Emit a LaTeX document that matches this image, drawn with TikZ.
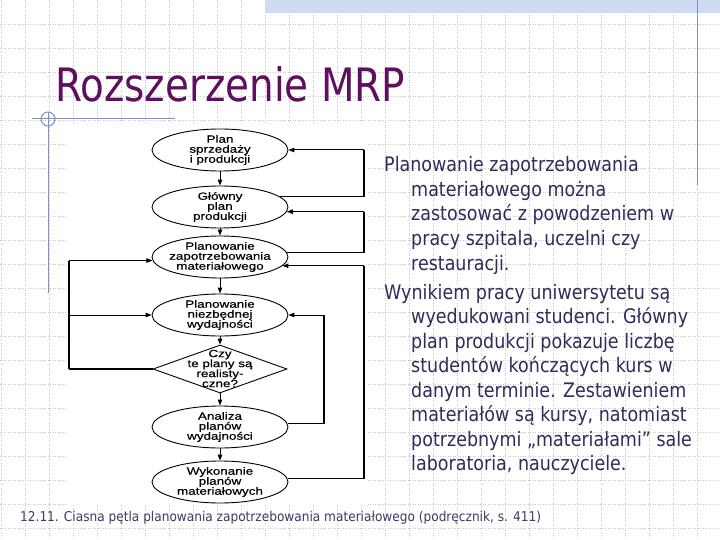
\documentclass[tikz,border=0pt]{standalone}
\usepackage{fontspec}
\usetikzlibrary{shapes.geometric,arrows.meta}
\newfontfamily\titlefont[FakeStretch=0.845]{DejaVu Sans}
\newfontfamily\bodyfont[FakeStretch=0.875]{DejaVu Sans}
\newfontfamily\capfont[FakeStretch=0.9]{DejaVu Sans}
\newfontfamily\flowfont[FakeStretch=1.28,FakeBold=0.5]{Liberation Sans}
\definecolor{titlepurple}{RGB}{94,16,94}
\definecolor{bodynavy}{RGB}{45,45,92}
\definecolor{capnavy}{RGB}{60,60,100}
\definecolor{decoblue}{RGB}{125,145,195}
\definecolor{bandblue}{RGB}{208,218,240}
\definecolor{gridgray}{RGB}{200,200,200}
\tikzset{
  gridline/.style={gridgray, line width=0.6pt, dash pattern=on 1pt off 1.5pt},
  deco/.style={decoblue, line width=1pt},
  ell/.style={ellipse, draw, line width=0.9pt, minimum width=136pt, minimum height=42pt, inner sep=0pt},
  dia/.style={diamond, draw, line width=0.9pt, minimum width=134pt, minimum height=48pt, inner sep=0pt},
  ftxt/.style={align=center, font=\flowfont\fontsize{10.5}{10}\selectfont, inner sep=0pt},
  arr/.style={-{Triangle[length=6pt,width=4.5pt]}, line width=1pt},
  ret/.style={line width=1.3pt},
  rt/.style={anchor=base west, inner sep=0pt, text=bodynavy, font=\bodyfont\fontsize{20}{24}\selectfont},
}
\begin{document}
\begin{tikzpicture}[x=1pt,y=-1pt]
\useasboundingbox (0,0) rectangle (720,540);
\fill[white] (0,0) rectangle (720,540);
% grid
\foreach \i in {0,...,29} \draw[gridline] (1+24*\i,0) -- (1+24*\i,540);
\foreach \j in {1,...,22} \draw[gridline] (0,24*\j) -- (720,24*\j);
% top band and decorations
\fill[bandblue] (265,0) rectangle (720,13);
\draw[deco] (697,0) -- (697,185);
\draw[deco] (32,119) -- (175,119);
\draw[deco] (48,112) -- (48,293);
\draw[deco] (48,119) circle (7);
% title
\node[anchor=base west, inner sep=0pt, text=titlepurple, font=\titlefont\fontsize{46}{50}\selectfont] (title) at (55,102) {Rozszerzenie MRP};
% flowchart background
\fill[white] (66,124) rectangle (368,505);
\coordinate (xR) at (364,0);
\coordinate (xD) at (324,0);
\coordinate (xL) at (69,0);
\node[ell] (e1) at (220,150) {};
\node[ftxt] (t1) at (e1) {Plan\\sprzedaży\\i produkcji};
\node[ell] (e2) at (220,207) {};
\node[ftxt] (t2) at (e2) {Główny\\plan\\produkcji};
\node[ell] (e3) at (220,257) {};
\node[ftxt] (t3) at (e3) {Planowanie\\zapotrzebowania\\materiałowego};
\node[ell] (e4) at (220,315) {};
\node[ftxt] (t4) at (e4) {Planowanie\\niezbędnej\\wydajności};
\node[dia] (d) at (220,369) {};
\node[ftxt] (t5) at (220,368.5) {Czy\\te plany są\\realisty-\\czne?};
\node[ell] (e6) at (220,427) {};
\node[ftxt] (t6) at (e6) {Analiza\\planów\\wydajności};
\node[ell] (e7) at (220,482) {};
\node[ftxt] (t7) at (e7) {Wykonanie\\planów\\materiałowych};
% main flow
\draw[arr] (e1) -- (e2);
\draw[arr] (e2) -- (e3);
\draw[arr] (e3) -- (e4);
\draw[arr] (e4) -- (d);
\draw[arr] (d) -- (e6);
\draw[arr] (e6) -- (e7);
% right loops
\draw[ret] (e2.10) -- (e2.10 -| xR) -- (e1.east -| xR);
\draw[arr] (e1.east -| xR) -- (e1.east);
\draw[ret] (e3.4) -- (e3.4 -| xR) -- (e2.356 -| xR);
\draw[arr] (e2.356 -| xR) -- (e2.356);
\draw[ret] (e7.3) -- (e7.3 -| xR) -- (e3.352 -| xR);
\draw[arr] (e3.352 -| xR) -- (e3.352);
\draw[ret] (e6.3) -- (e6.3 -| xD) -- (e4.east -| xD);
\draw[arr] (e4.east -| xD) -- (e4.east);
% left loop
\draw[ret] (d.west) -- (d.west -| xL);
\draw[line width=2pt] (d.west -| xL) -- (e3.183 -| xL);
\draw[arr] (e3.183 -| xL) -- (e3.183);
\draw[arr] (e4.west -| xL) -- (e4.west);
% right text
\node[rt] (p1) at (384,172) {Planowanie zapotrzebowania};
\node[rt] (p2) at (411,196.5) {materiałowego można};
\node[rt] (p3) at (411,221) {zastosować z powodzeniem w};
\node[rt] (p4) at (411,245.5) {pracy szpitala, uczelni czy};
\node[rt] (p5) at (411,270) {restauracji.};
\node[rt] (q1) at (384,299) {Wynikiem pracy uniwersytetu są};
\node[rt] (q2) at (411,323.5) {wyedukowani studenci. Główny};
\node[rt] (q3) at (411,348) {plan produkcji pokazuje liczbę};
\node[rt] (q4) at (411,372.5) {studentów kończących kurs w};
\node[rt] (q5) at (411,397) {danym terminie. Zestawieniem};
\node[rt] (q6) at (411,421.5) {materiałów są kursy, natomiast};
\node[rt] (q7) at (411,446) {potrzebnymi „materiałami” sale};
\node[rt] (q8) at (411,470.5) {laboratoria, nauczyciele.};
% caption
\node[anchor=base west, inner sep=0pt, text=capnavy, font=\capfont\fontsize{13.5}{16}\selectfont] (cap) at (20,521) {12.11. Ciasna pętla planowania zapotrzebowania materiałowego (podręcznik, s. 411)};
\end{tikzpicture}
\end{document}
